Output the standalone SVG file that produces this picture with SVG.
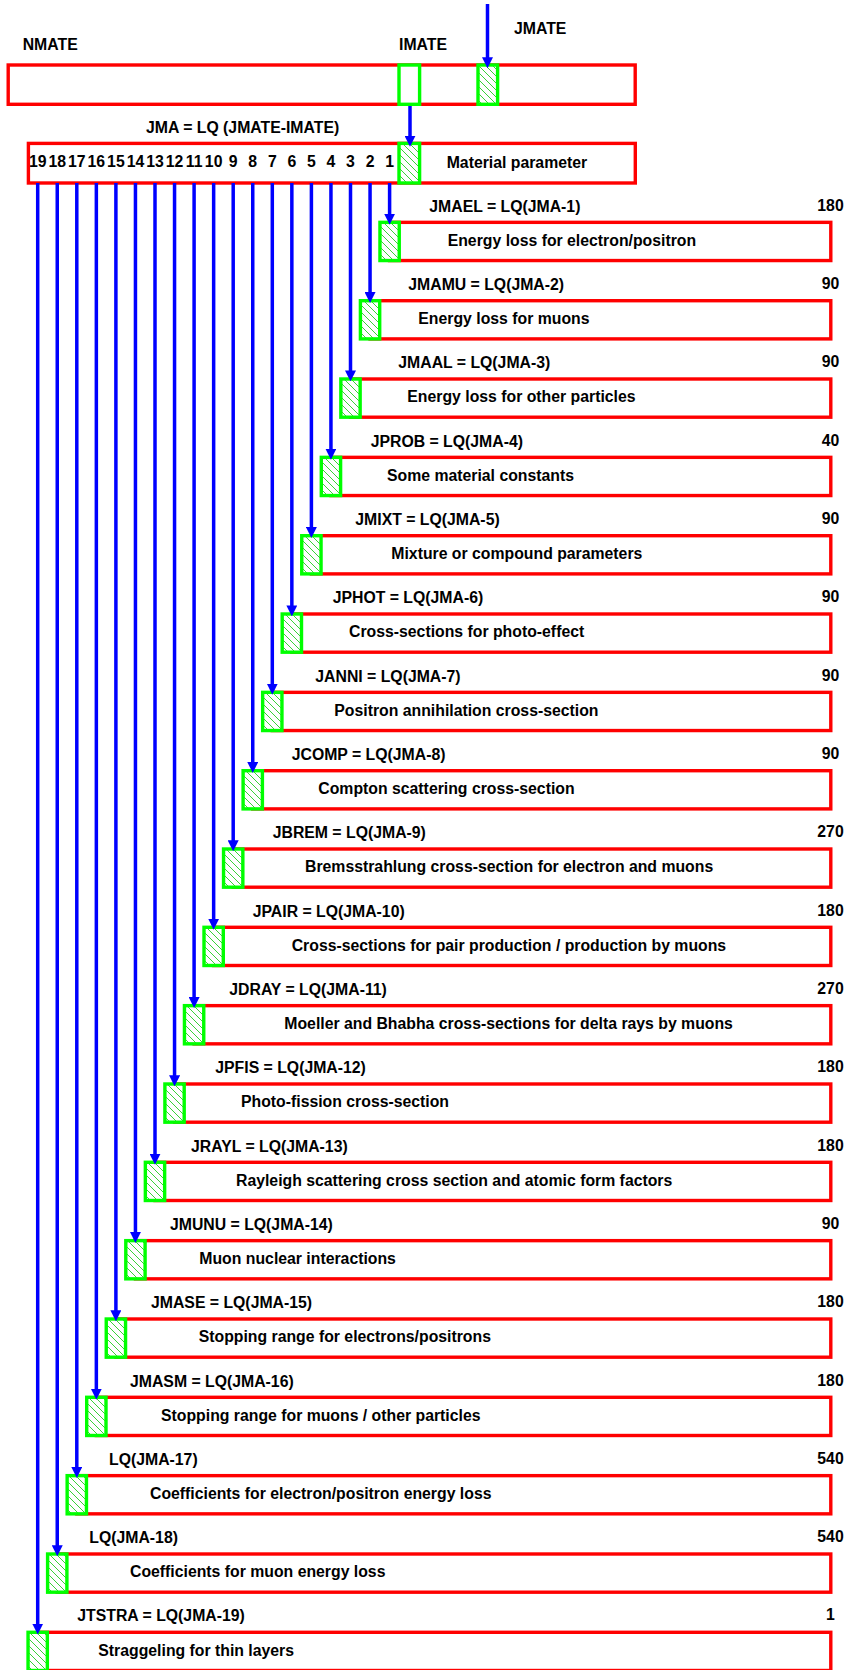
<svg xmlns="http://www.w3.org/2000/svg" width="846" height="1670" viewBox="0 0 846 1670">
<style>
text{font-family:"Liberation Sans",Arial,sans-serif;font-weight:bold;font-size:15.8px;fill:#000}
.num{text-anchor:middle}
.red{fill:#fff;stroke:#ff0000;stroke-width:3.4}
.grn{stroke:#00ff00;stroke-width:3.4;fill:url(#hatch)}
.grnw{stroke:#00ff00;stroke-width:3.4;fill:#fff}
.con{stroke:#0000ff;stroke-width:3.5;fill:none;marker-end:url(#arr)}
</style>
<defs>
<pattern id="hatch" patternUnits="userSpaceOnUse" width="7" height="7">
<rect width="7" height="7" fill="#fff"/>
<path d="M-1,-1 L8,8 M-1,6 L1,8 M6,-1 L8,1" stroke="#22cc22" stroke-width="0.9"/>
</pattern>
<marker id="arr" viewBox="0 0 11 11" markerWidth="11" markerHeight="11" refX="5.5" refY="5.5" orient="auto" markerUnits="userSpaceOnUse">
<path d="M0,0 L11,5.5 L0,11 z" fill="#0000ff"/>
</marker>
</defs>

<g id="top-bank">
<rect class="red" x="8.2" y="65" width="627" height="39.3"/>
<text x="22.7" y="50">NMATE</text>
</g>
<g id="imate">
<rect class="grnw" x="399" y="65" width="20.6" height="39.3"/>
<text x="399" y="50">IMATE</text>
</g>
<g id="jmate">
<rect class="grn" x="478" y="65" width="19.6" height="39.3"/>
<text x="514" y="34">JMATE</text>
</g>

<g id="material">
<rect class="red" x="28.4" y="143.4" width="606.9" height="39.6"/>
<rect class="grn" x="399" y="143.4" width="20.6" height="39.6"/>
<text x="146" y="132.5">JMA = LQ (JMATE-IMATE)</text>
<text x="446.7" y="167.5">Material parameter</text>
<text class="num" x="389.6" y="167">1</text>
<text class="num" x="370.05" y="167">2</text>
<text class="num" x="350.5" y="167">3</text>
<text class="num" x="330.95" y="167">4</text>
<text class="num" x="311.4" y="167">5</text>
<text class="num" x="291.85" y="167">6</text>
<text class="num" x="272.3" y="167">7</text>
<text class="num" x="252.75" y="167">8</text>
<text class="num" x="233.2" y="167">9</text>
<text class="num" x="213.65" y="167">10</text>
<text class="num" x="194.1" y="167">11</text>
<text class="num" x="174.55" y="167">12</text>
<text class="num" x="155" y="167">13</text>
<text class="num" x="135.45" y="167">14</text>
<text class="num" x="115.9" y="167">15</text>
<text class="num" x="96.35" y="167">16</text>
<text class="num" x="76.8" y="167">17</text>
<text class="num" x="57.25" y="167">18</text>
<text class="num" x="37.7" y="167">19</text>
</g>

<g id="row1">
<rect class="red" x="389.6" y="222.35" width="441.2" height="38.2"/>
<rect class="grn" x="379.95" y="222.35" width="19.3" height="38.2"/>
<text x="429.3" y="211.7">JMAEL = LQ(JMA-1)</text>
<text class="num" x="830.5" y="210.5">180</text>
<text x="447.7" y="245.7">Energy loss for electron/positron</text>
</g>
<g id="row2">
<rect class="red" x="370.05" y="300.7" width="460.75" height="38.2"/>
<rect class="grn" x="360.4" y="300.7" width="19.3" height="38.2"/>
<text x="408.3" y="290">JMAMU = LQ(JMA-2)</text>
<text class="num" x="830.5" y="289">90</text>
<text x="418.3" y="324">Energy loss for muons</text>
</g>
<g id="row3">
<rect class="red" x="350.5" y="379" width="480.3" height="38.2"/>
<rect class="grn" x="340.85" y="379" width="19.3" height="38.2"/>
<text x="398.3" y="368.4">JMAAL = LQ(JMA-3)</text>
<text class="num" x="830.5" y="367.4">90</text>
<text x="407.3" y="402.4">Energy loss for other particles</text>
</g>
<g id="row4">
<rect class="red" x="330.95" y="457.35" width="499.85" height="38.2"/>
<rect class="grn" x="321.3" y="457.35" width="19.3" height="38.2"/>
<text x="370.7" y="446.7">JPROB = LQ(JMA-4)</text>
<text class="num" x="830.5" y="445.7">40</text>
<text x="387" y="480.7">Some material constants</text>
</g>
<g id="row5">
<rect class="red" x="311.4" y="535.7" width="519.4" height="38.2"/>
<rect class="grn" x="301.75" y="535.7" width="19.3" height="38.2"/>
<text x="355.3" y="525">JMIXT = LQ(JMA-5)</text>
<text class="num" x="830.5" y="524">90</text>
<text x="391.3" y="559">Mixture or compound parameters</text>
</g>
<g id="row6">
<rect class="red" x="291.85" y="614" width="538.95" height="38.2"/>
<rect class="grn" x="282.2" y="614" width="19.3" height="38.2"/>
<text x="332.7" y="603.4">JPHOT = LQ(JMA-6)</text>
<text class="num" x="830.5" y="602.4">90</text>
<text x="349" y="637.4">Cross-sections for photo-effect</text>
</g>
<g id="row7">
<rect class="red" x="272.3" y="692.35" width="558.5" height="38.2"/>
<rect class="grn" x="262.65" y="692.35" width="19.3" height="38.2"/>
<text x="315.3" y="681.7">JANNI = LQ(JMA-7)</text>
<text class="num" x="830.5" y="680.7">90</text>
<text x="334.3" y="715.7">Positron annihilation cross-section</text>
</g>
<g id="row8">
<rect class="red" x="252.75" y="770.7" width="578.05" height="38.2"/>
<rect class="grn" x="243.1" y="770.7" width="19.3" height="38.2"/>
<text x="291.7" y="760">JCOMP = LQ(JMA-8)</text>
<text class="num" x="830.5" y="759">90</text>
<text x="318.3" y="794">Compton scattering cross-section</text>
</g>
<g id="row9">
<rect class="red" x="233.2" y="849" width="597.6" height="38.2"/>
<rect class="grn" x="223.55" y="849" width="19.3" height="38.2"/>
<text x="272.7" y="838.3">JBREM = LQ(JMA-9)</text>
<text class="num" x="830.5" y="837.3">270</text>
<text x="305" y="872.3">Bremsstrahlung cross-section for electron and muons</text>
</g>
<g id="row10">
<rect class="red" x="213.65" y="927.3" width="617.15" height="38.2"/>
<rect class="grn" x="204" y="927.3" width="19.3" height="38.2"/>
<text x="252.7" y="916.7">JPAIR = LQ(JMA-10)</text>
<text class="num" x="830.5" y="915.7">180</text>
<text x="291.7" y="950.7">Cross-sections for pair production / production by muons</text>
</g>
<g id="row11">
<rect class="red" x="194.1" y="1005.65" width="636.7" height="38.2"/>
<rect class="grn" x="184.45" y="1005.65" width="19.3" height="38.2"/>
<text x="229.3" y="995">JDRAY = LQ(JMA-11)</text>
<text class="num" x="830.5" y="994">270</text>
<text x="284.3" y="1029">Moeller and Bhabha cross-sections for delta rays by muons</text>
</g>
<g id="row12">
<rect class="red" x="174.55" y="1084" width="656.25" height="38.2"/>
<rect class="grn" x="164.9" y="1084" width="19.3" height="38.2"/>
<text x="215.3" y="1073.3">JPFIS = LQ(JMA-12)</text>
<text class="num" x="830.5" y="1072.3">180</text>
<text x="241" y="1107.3">Photo-fission cross-section</text>
</g>
<g id="row13">
<rect class="red" x="155" y="1162.3" width="675.8" height="38.2"/>
<rect class="grn" x="145.35" y="1162.3" width="19.3" height="38.2"/>
<text x="191" y="1151.7">JRAYL = LQ(JMA-13)</text>
<text class="num" x="830.5" y="1150.7">180</text>
<text x="236" y="1185.7">Rayleigh scattering cross section and atomic form factors</text>
</g>
<g id="row14">
<rect class="red" x="135.45" y="1240.65" width="695.35" height="38.2"/>
<rect class="grn" x="125.8" y="1240.65" width="19.3" height="38.2"/>
<text x="170" y="1230">JMUNU = LQ(JMA-14)</text>
<text class="num" x="830.5" y="1229">90</text>
<text x="199.3" y="1264">Muon nuclear interactions</text>
</g>
<g id="row15">
<rect class="red" x="115.9" y="1319" width="714.9" height="38.2"/>
<rect class="grn" x="106.25" y="1319" width="19.3" height="38.2"/>
<text x="151" y="1308.3">JMASE = LQ(JMA-15)</text>
<text class="num" x="830.5" y="1307.3">180</text>
<text x="198.7" y="1342.3">Stopping range for electrons/positrons</text>
</g>
<g id="row16">
<rect class="red" x="96.35" y="1397.3" width="734.45" height="38.2"/>
<rect class="grn" x="86.7" y="1397.3" width="19.3" height="38.2"/>
<text x="130" y="1386.7">JMASM = LQ(JMA-16)</text>
<text class="num" x="830.5" y="1385.7">180</text>
<text x="161" y="1420.7">Stopping range for muons / other particles</text>
</g>
<g id="row17">
<rect class="red" x="76.8" y="1475.65" width="754" height="38.2"/>
<rect class="grn" x="67.15" y="1475.65" width="19.3" height="38.2"/>
<text x="109" y="1465">LQ(JMA-17)</text>
<text class="num" x="830.5" y="1464">540</text>
<text x="150" y="1499">Coefficients for electron/positron energy loss</text>
</g>
<g id="row18">
<rect class="red" x="57.25" y="1554" width="773.55" height="38.2"/>
<rect class="grn" x="47.6" y="1554" width="19.3" height="38.2"/>
<text x="89.3" y="1542.5">LQ(JMA-18)</text>
<text class="num" x="830.5" y="1542">540</text>
<text x="130" y="1577.3">Coefficients for muon energy loss</text>
</g>
<g id="row19">
<rect class="red" x="37.7" y="1632.3" width="793.1" height="38.2"/>
<rect class="grn" x="28.05" y="1632.3" width="19.3" height="38.2"/>
<text x="77.3" y="1620.5">JTSTRA = LQ(JMA-19)</text>
<text class="num" x="830.5" y="1620">1</text>
<text x="98.3" y="1656">Straggeling for thin layers</text>
</g>

<g id="connectors">
<path class="con" d="M487.5,4 V62.8"/>
<path class="con" d="M410,106 V141.2"/>
<path class="con" d="M389.6,183 V219.2"/>
<path class="con" d="M370.05,183 V297.5"/>
<path class="con" d="M350.5,183 V375.9"/>
<path class="con" d="M330.95,183 V454.2"/>
<path class="con" d="M311.4,183 V532.5"/>
<path class="con" d="M291.85,183 V610.9"/>
<path class="con" d="M272.3,183 V689.2"/>
<path class="con" d="M252.75,183 V767.5"/>
<path class="con" d="M233.2,183 V845.8"/>
<path class="con" d="M213.65,183 V924.2"/>
<path class="con" d="M194.1,183 V1002.5"/>
<path class="con" d="M174.55,183 V1080.8"/>
<path class="con" d="M155,183 V1159.2"/>
<path class="con" d="M135.45,183 V1237.5"/>
<path class="con" d="M115.9,183 V1315.8"/>
<path class="con" d="M96.35,183 V1394.2"/>
<path class="con" d="M76.8,183 V1472.5"/>
<path class="con" d="M57.25,183 V1550.8"/>
<path class="con" d="M37.7,183 V1629.1"/>
</g>
</svg>
